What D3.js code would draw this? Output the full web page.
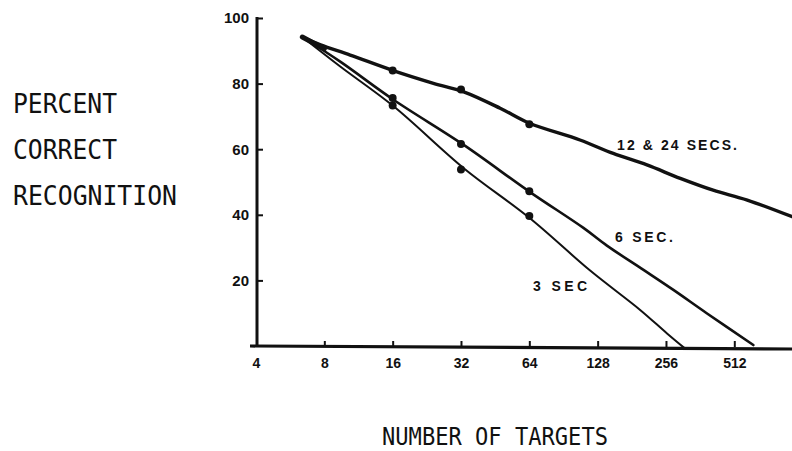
<!DOCTYPE html>
<html>
<head>
<meta charset="utf-8">
<script src="https://cdn.jsdelivr.net/npm/d3@7"></script>
<style>
  html, body { margin: 0; padding: 0; background: #fff; }
  svg { display: block; }
</style>
</head>
<body>
<svg id="chart" width="792" height="451"></svg>
<script>
// ---- Data ----
const xTicks = [4, 8, 16, 32, 64, 128, 256, 512];
const yTicks = [20, 40, 60, 80, 100];

// curve traces: [number of targets, percent correct]
const curve12_24 = [[6.4, 94.2], [7.7, 91.8], [10.4, 88.7], [16.2, 83.9], [24.2, 80.1], [32.9, 77.5],
  [47.6, 72.5], [64.2, 67.9], [107, 62.8], [150, 58.7], [211, 55.2], [296, 51.1], [413, 47.5], [584, 44.5], [922, 39.4]];
const curve6 = [[6.4, 94.2], [9.4, 86.7], [16.2, 75.0], [32.9, 61.3], [64.2, 47.0], [110.8, 36.0],
  [140.6, 30.6], [203.8, 23.2], [276, 17.1], [387, 10.0], [621, 0.3]];
const curve3 = [[6.4, 94.2], [9.4, 85.2], [16.2, 73.0], [32.9, 54.2], [64.2, 39.0],
  [118.6, 23.0], [197, 11.0], [258, 3.9], [311, -0.8]];

// observed data points
const pts12_24 = [[16, 84.0], [32, 78.2], [64, 67.6]];
const pts6 = [[16, 75.6], [32, 61.6], [64, 47.2]];
const pts3 = [[16, 73.3], [32, 53.8], [64, 39.6]];

const seriesLabels = ["12 & 24 SECS.", "6 SEC.", "3 SEC"];
const yTitle = ["PERCENT", "CORRECT", "RECOGNITION"];
const xTitle = "NUMBER OF TARGETS";

// ---- Drawing ----
const svg = d3.select("#chart");
const x = d3.scaleLog().base(2).domain([4, 512]).range([256, 734.3]);
const y = d3.scaleLinear().domain([0, 100]).range([346, 18]);

const ink = "#111";

// axes lines
svg.append("line").attr("x1", 250).attr("x2", 792).attr("y1", 346).attr("y2", 349)
  .attr("stroke", ink).attr("stroke-width", 3.2);
svg.append("line").attr("x1", x(4) + 1).attr("x2", x(4) + 1).attr("y1", y(100) - 1).attr("y2", 347)
  .attr("stroke", ink).attr("stroke-width", 3);

// x axis ticks & labels
const xAxis = d3.axisBottom(x).tickValues(xTicks).tickFormat(d => d3.format("d")(d))
  .tickSizeInner(-6).tickSizeOuter(0).tickPadding(11);
const gx = svg.append("g").attr("transform", "translate(0,347)").call(xAxis);
gx.select(".domain").remove();
gx.selectAll(".tick line").attr("stroke", ink).attr("stroke-width", 2)
  .filter(d => d === 4).remove();
gx.selectAll(".tick text").attr("fill", ink)
  .style("font-family", "'Liberation Sans', Arial, sans-serif")
  .style("font-weight", "bold").style("font-size", "14px");

// y axis ticks & labels
const yAxis = d3.axisLeft(y).tickValues(yTicks).tickFormat(d3.format("d"))
  .tickSizeInner(-6).tickSizeOuter(0).tickPadding(8);
const gy = svg.append("g").attr("transform", `translate(${x(4) + 1},0)`).call(yAxis);
gy.select(".domain").remove();
gy.selectAll(".tick line").attr("stroke", ink).attr("stroke-width", 2);
gy.selectAll(".tick text").attr("fill", ink)
  .style("font-family", "'Liberation Sans', Arial, sans-serif")
  .style("font-weight", "bold").style("font-size", "15px");

// curves
const line = d3.line().x(d => x(d[0])).y(d => y(d[1])).curve(d3.curveCatmullRom.alpha(0.5));
const curves = [
  { data: curve12_24, w: 3.4 },
  { data: curve6, w: 2.6 },
  { data: curve3, w: 2.0 }
];
svg.append("g").selectAll("path").data(curves).join("path")
  .attr("d", d => line(d.data))
  .attr("fill", "none").attr("stroke", ink)
  .attr("stroke-width", d => d.w).attr("stroke-linecap", "round").attr("stroke-linejoin", "round");

// starting blob where the curves converge
svg.append("path")
  .attr("d", d3.line().x(d => x(d[0])).y(d => y(d[1]))([[6.4, 94.2], [8.0, 90.6]]))
  .attr("stroke", ink).attr("stroke-width", 5).attr("stroke-linecap", "round");

// data points
const allPts = [...pts12_24, ...pts6, ...pts3];
svg.append("g").selectAll("circle").data(allPts).join("circle")
  .attr("cx", d => x(d[0])).attr("cy", d => y(d[1])).attr("r", 4).attr("fill", ink);

// series labels
const labelFont = "'Liberation Sans', Arial, sans-serif";
const labelPos = [
  { t: seriesLabels[0], px: 617, py: 150, len: 120 },
  { t: seriesLabels[1], px: 615, py: 242, len: 58 },
  { t: seriesLabels[2], px: 533, py: 291, len: 54 }
];
svg.append("g").selectAll("text").data(labelPos).join("text")
  .attr("x", d => d.px).attr("y", d => d.py).text(d => d.t)
  .attr("textLength", d => d.len).attr("lengthAdjust", "spacing")
  .attr("fill", ink)
  .style("font-family", labelFont).style("font-weight", "bold").style("font-size", "14px");

// y title (three lines)
const titleFont = "'DejaVu Sans Mono', monospace";
const yTitleLens = [104, 104, 164];
svg.append("g").selectAll("text").data(yTitle).join("text")
  .attr("x", 13).attr("y", (d, i) => 113 + i * 46)
  .text(d => d)
  .attr("textLength", (d, i) => yTitleLens[i]).attr("lengthAdjust", "spacingAndGlyphs")
  .attr("fill", ink)
  .style("font-family", titleFont).style("font-size", "27px");

// x title
svg.append("text").attr("x", 382).attr("y", 445).text(xTitle)
  .attr("textLength", 226).attr("lengthAdjust", "spacingAndGlyphs")
  .attr("fill", ink)
  .style("font-family", titleFont).style("font-size", "24px");
</script>
</body>
</html>
